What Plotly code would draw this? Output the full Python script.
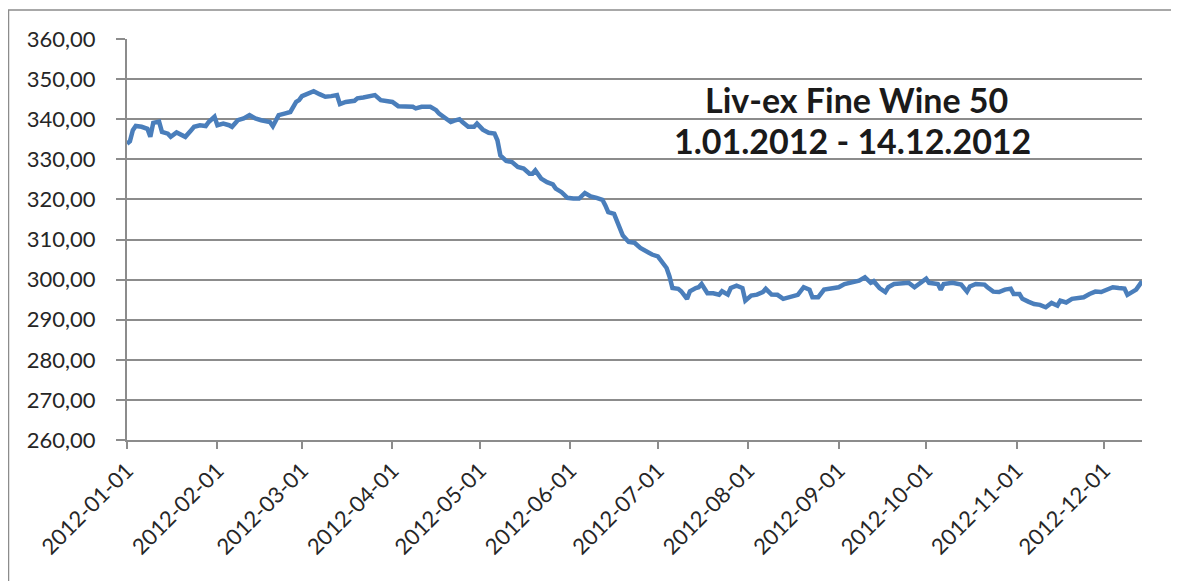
import plotly.graph_objects as go

dates = [
    "2012-01-01", "2012-01-02", "2012-01-03", "2012-01-04", "2012-01-06", "2012-01-08", "2012-01-09",
    "2012-01-10", "2012-01-12", "2012-01-13", "2012-01-15", "2012-01-16", "2012-01-18", "2012-01-19",
    "2012-01-21", "2012-01-23", "2012-01-24", "2012-01-26", "2012-01-28", "2012-01-29", "2012-01-31",
    "2012-02-01", "2012-02-03", "2012-02-05", "2012-02-06", "2012-02-08", "2012-02-10", "2012-02-12",
    "2012-02-14", "2012-02-16", "2012-02-19", "2012-02-20", "2012-02-22", "2012-02-24", "2012-02-26",
    "2012-02-28", "2012-02-29",
    "2012-03-01", "2012-03-03", "2012-03-05", "2012-03-07", "2012-03-09", "2012-03-11", "2012-03-13",
    "2012-03-14", "2012-03-16", "2012-03-19", "2012-03-20", "2012-03-22", "2012-03-24", "2012-03-26",
    "2012-03-28", "2012-03-30", "2012-04-01", "2012-04-03", "2012-04-05", "2012-04-08", "2012-04-09",
    "2012-04-11", "2012-04-14", "2012-04-16", "2012-04-17", "2012-04-19", "2012-04-21", "2012-04-22",
    "2012-04-24", "2012-04-25", "2012-04-27", "2012-04-29", "2012-04-30", "2012-05-02", "2012-05-04",
    "2012-05-06", "2012-05-07", "2012-05-08", "2012-05-10", "2012-05-12", "2012-05-14", "2012-05-16",
    "2012-05-18", "2012-05-19", "2012-05-20", "2012-05-22", "2012-05-24", "2012-05-26", "2012-05-27",
    "2012-05-29", "2012-05-31", "2012-06-02", "2012-06-04", "2012-06-06", "2012-06-08", "2012-06-10",
    "2012-06-12", "2012-06-13", "2012-06-14", "2012-06-16", "2012-06-17", "2012-06-18", "2012-06-19",
    "2012-06-21", "2012-06-23", "2012-06-25", "2012-06-27", "2012-06-29", "2012-07-01", "2012-07-03",
    "2012-07-04", "2012-07-05", "2012-07-06", "2012-07-08", "2012-07-09", "2012-07-11", "2012-07-12",
    "2012-07-14", "2012-07-15", "2012-07-16", "2012-07-18", "2012-07-20", "2012-07-22", "2012-07-23",
    "2012-07-25", "2012-07-26", "2012-07-28", "2012-07-30", "2012-07-31", "2012-08-02", "2012-08-04",
    "2012-08-06", "2012-08-07", "2012-08-09", "2012-08-11", "2012-08-13", "2012-08-15", "2012-08-18",
    "2012-08-20", "2012-08-22", "2012-08-23", "2012-08-25", "2012-08-27", "2012-08-30", "2012-09-01",
    "2012-09-03", "2012-09-06", "2012-09-08", "2012-09-10", "2012-09-12", "2012-09-13", "2012-09-15",
    "2012-09-17", "2012-09-18", "2012-09-20", "2012-09-23", "2012-09-25", "2012-09-27", "2012-09-29",
    "2012-10-01", "2012-10-02", "2012-10-05", "2012-10-06", "2012-10-07", "2012-10-10", "2012-10-11",
    "2012-10-13", "2012-10-15", "2012-10-16", "2012-10-18", "2012-10-21", "2012-10-22", "2012-10-24",
    "2012-10-26", "2012-10-28", "2012-10-30", "2012-10-31", "2012-11-02", "2012-11-03", "2012-11-05",
    "2012-11-07", "2012-11-09", "2012-11-11", "2012-11-13", "2012-11-15", "2012-11-16", "2012-11-18",
    "2012-11-20", "2012-11-22", "2012-11-24", "2012-11-26", "2012-11-28", "2012-11-30", "2012-12-02",
    "2012-12-04", "2012-12-06", "2012-12-08", "2012-12-09", "2012-12-11", "2012-12-12", "2012-12-14",
]

index_values = [
    333.9, 334.5, 337.25, 338.3, 338.1, 337.6, 335.6,
    339.1, 339.4, 336.8, 336.4, 335.6, 336.7, 336.4,
    335.6, 337.25, 338.1, 338.5, 338.3, 339.3, 340.6,
    338.5, 338.9, 338.5, 338.1, 339.75, 340.2, 341.0,
    340.2, 339.75, 339.3, 338.25, 341.0, 341.4, 341.8,
    344.3, 344.75,
    345.75, 346.25, 347.0, 346.25, 345.6, 345.75, 346.0,
    343.75, 344.3, 344.6, 345.2, 345.4, 345.6, 346.0,
    344.75, 344.6, 344.3, 343.25, 343.1, 343.1, 342.7,
    343.1, 343.1, 342.25, 341.4, 340.2, 339.3, 339.6,
    340.0, 339.3, 338.1, 338.1, 338.9, 337.4, 336.6,
    336.4, 334.75, 331.0, 329.6, 329.3, 328.1, 327.7,
    326.4, 326.4, 327.25, 325.2, 324.3, 323.75, 322.7,
    321.8, 320.4, 320.2, 320.2, 321.6, 320.75, 320.4,
    319.9, 318.5, 316.8, 316.4, 314.75, 312.5, 311.0,
    309.4, 309.2, 307.9, 307.1, 306.25, 305.8, 303.75,
    302.9, 300.8, 297.9, 297.7, 297.1, 295.2, 297.1,
    297.9, 298.1, 298.9, 296.6, 296.6, 296.25, 297.1,
    296.25, 297.9, 298.5, 297.9, 294.75, 296.0, 296.25,
    296.9, 297.7, 296.25, 296.2, 295.2, 295.6, 296.2,
    298.1, 297.5, 295.6, 295.6, 297.5, 297.75, 298.1,
    298.9, 299.4, 299.75, 300.6, 299.2, 299.6, 297.9,
    296.9, 298.1, 298.9, 299.2, 299.2, 298.1, 299.2,
    300.25, 299.2, 298.9, 297.5, 298.9, 299.2, 299.0,
    298.75, 297.0, 298.3, 298.9, 298.75, 298.1, 297.0,
    296.9, 297.5, 297.75, 296.4, 296.4, 295.2, 294.5,
    293.9, 293.7, 293.1, 294.2, 293.5, 294.75, 294.3,
    295.2, 295.4, 295.6, 296.4, 297.0, 296.9, 297.5,
    298.1, 297.9, 297.75, 296.2, 296.9, 297.5, 299.6,
]

month_ticks = [
    "2012-01-01", "2012-02-01", "2012-03-01", "2012-04-01", "2012-05-01", "2012-06-01",
    "2012-07-01", "2012-08-01", "2012-09-01", "2012-10-01", "2012-11-01", "2012-12-01",
]
y_ticks = [260, 270, 280, 290, 300, 310, 320, 330, 340, 350, 360]

title_line1 = "Liv-ex Fine Wine 50"
title_line2 = "1.01.2012 - 14.12.2012"

FONT = "Lato"
GRID = "#8c8c8c"

# figure geometry (page has an 8px body margin)
ML, MR, MT, MB = 119, 45, 31, 149
W, H = 1179, 581
PW = W - ML - MR
PH = H - MT - MB


def px_x(fx):
    return (fx - ML) / PW


def px_y(fy):
    return (H - MB - fy) / PH


fig = go.Figure()
fig.add_trace(go.Scatter(
    x=dates, y=index_values, mode="lines",
    line=dict(color="#4a7ebb", width=4.5),
    showlegend=False, hoverinfo="skip",
))

fig.update_layout(
    width=W, height=H,
    margin=dict(l=ML, r=MR, t=MT, b=MB),
    paper_bgcolor="white", plot_bgcolor="white",
    separators=", ",
    font=dict(family=FONT, color="#262626"),
    showlegend=False,
)

fig.update_xaxes(
    type="date",
    range=["2012-01-01", "2012-12-14"],
    tickvals=month_ticks,
    ticktext=month_ticks,
    tickangle=-45,
    tickfont=dict(family=FONT, size=22, color="#262626"),
    showgrid=False,
    showline=True, linecolor=GRID, linewidth=2,
    ticks="outside", ticklen=7, tickcolor=GRID, tickwidth=2,
    zeroline=False,
)

fig.update_yaxes(
    range=[260, 360],
    tickvals=y_ticks,
    tickformat=".2f",
    tickfont=dict(family=FONT, size=22, color="#262626"),
    showgrid=True, gridcolor=GRID, gridwidth=2,
    showline=True, linecolor=GRID, linewidth=2,
    ticks="outside", ticklen=9, tickcolor=GRID, tickwidth=2,
    ticklabelstandoff=16,
    zeroline=False,
)

fig.add_annotation(
    xref="paper", yref="paper", x=px_x(848), y=px_y(92),
    text="<b>" + title_line1 + "</b>", showarrow=False,
    font=dict(family=FONT, size=34, color="#1a1a1a"),
    xanchor="center", yanchor="middle",
)
fig.add_annotation(
    xref="paper", yref="paper", x=px_x(844), y=px_y(132),
    text="<b>" + title_line2 + "</b>", showarrow=False,
    font=dict(family=FONT, size=34, color="#1a1a1a"),
    xanchor="center", yanchor="middle",
)

# outer chart border
fig.add_shape(
    type="rect", xref="paper", yref="paper",
    x0=px_x(0.5), x1=px_x(1167),
    y0=px_y(600), y1=px_y(2),
    line=dict(color="#8c8c8c", width=1.5), fillcolor="rgba(0,0,0,0)", layer="below",
)

fig.write_html("out.html")
